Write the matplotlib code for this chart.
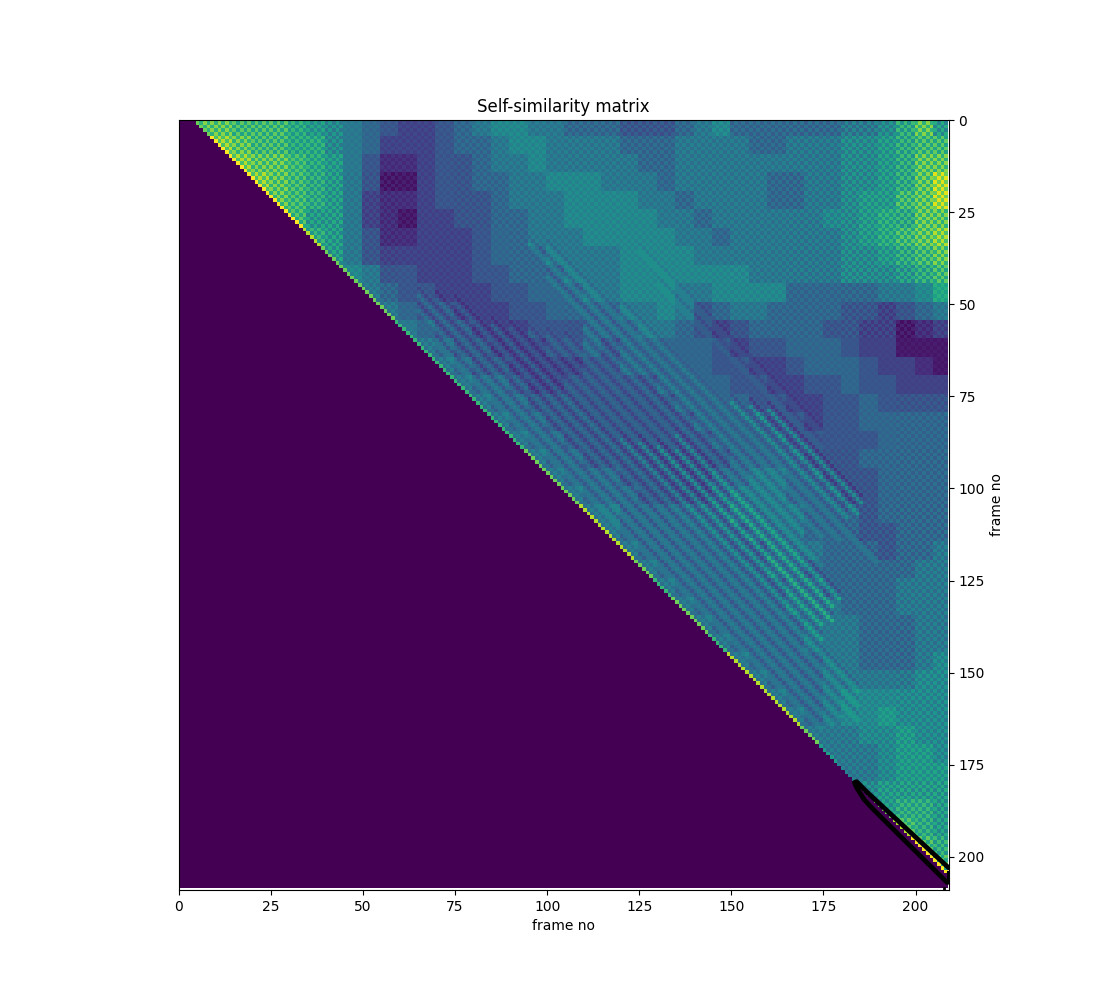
import matplotlib
matplotlib.use('Agg')
import matplotlib.pyplot as plt
import numpy as np

# similarity levels, one hex digit (0-f) per 5x5 frames
levels = [
    '0bbaaa9 8765433 4567766 5554445 6755555 56679b8',
    '0bcbaa9 9765333 4556776 6665556 6665566 67789aa',
    '00ccbba 9864223 4456676 6666556 6666666 67789bb',
    '000ccba 9864113 4455667 7766656 6666556 67789bd',
    '0000cba 9863223 4445666 7777665 6666556 6788abd',
    '00000ba 8863213 3445566 7777766 5666666 77899bb',
    '000000b 9864223 3345566 6777776 6566666 6789abc',
    '0000000 9864333 3345556 6667777 6666666 67789ab',
    '0000000 0976443 3344555 6667777 7776666 677789a',
    '0000000 0096544 3334455 5667776 6777755 5556679',
    '0000000 0008654 4333445 5556676 4566555 5443456',
    '0000000 0000865 4433344 4555665 4345555 4433123',
    '0000000 0000096 5443334 4545555 5434455 5433111',
    '0000000 0000009 6544333 3445555 5443345 5543321',
    '0000000 0000000 9655433 4444455 5544334 4544333',
    '0000000 0000000 0965544 4444445 5554433 4454444',
    '0000000 0000000 0086554 4444444 5555443 4455555',
    '0000000 0000000 0008655 4444444 4555544 4445555',
    '0000000 0000000 0000865 5444444 4455554 4455555',
    '0000000 0000000 0000086 5554444 4556655 4445555',
    '0000000 0000000 0000008 6555444 4566655 5445555',
    '0000000 0000000 0000000 9665555 5566665 5545555',
    '0000000 0000000 0000000 0965555 5556665 5544555',
    '0000000 0000000 0000000 0086555 5555666 5554556',
    '0000000 0000000 0000000 0008655 5555665 5555566',
    '0000000 0000000 0000000 0000865 5555566 5555666',
    '0000000 0000000 0000000 0000086 5555566 6555666',
    '0000000 0000000 0000000 0000008 6555556 6655566',
    '0000000 0000000 0000000 0000000 9655556 6655566',
    '0000000 0000000 0000000 0000000 0965555 6655567',
    '0000000 0000000 0000000 0000000 00a6555 6666677',
    '0000000 0000000 0000000 0000000 000a655 6777777',
    '0000000 0000000 0000000 0000000 0000965 6778777',
    '0000000 0000000 0000000 0000000 0000096 6677877',
    '0000000 0000000 0000000 0000000 0000009 6667887',
    '0000000 0000000 0000000 0000000 0000000 6667888',
    '0000000 0000000 0000000 0000000 0000000 0778888',
    '0000000 0000000 0000000 0000000 0000000 0088998',
    '0000000 0000000 0000000 0000000 0000000 000aa98',
    '0000000 0000000 0000000 0000000 0000000 0000ca9',
    '0000000 0000000 0000000 0000000 0000000 00000da',
    '0000000 0000000 0000000 0000000 0000000 000000e',
]
# first visible cell of every row, per 5 frames
edge_levels = [7, 9, 9, 9, 9, 9, 8, 7, 7, 7, 7, 6, 6, 6, 6, 6, 6, 6, 7, 7, 7,
               8, 8, 8, 7, 6, 7, 7, 6, 8, 8, 8, 8, 7, 5, 4, 6, 7, 8, 9, 9, 9]
# checkerboard strength in hundredths, per 15x15 frames
checker = [
    [9, 9, 7, 2, 2, 3, 3, 4, 4, 4, 4, 5, 7, 9],
    [9, 9, 8, 3, 2, 3, 3, 3, 3, 4, 4, 5, 7, 9],
    [0, 9, 8, 3, 2, 2, 3, 3, 3, 3, 4, 5, 7, 9],
    [0, 0, 7, 4, 2, 2, 2, 3, 3, 3, 3, 3, 4, 3],
    [0, 0, 0, 0, 4, 3, 2, 2, 2, 1, 2, 2, 1, 1],
    [0, 0, 0, 0, 0, 4, 3, 3, 3, 2, 2, 2, 2, 3],
    [0, 0, 0, 0, 0, 0, 4, 3, 3, 3, 3, 3, 3, 4],
    [0, 0, 0, 0, 0, 0, 0, 4, 4, 3, 3, 3, 4, 5],
    [0, 0, 0, 0, 0, 0, 0, 0, 4, 3, 3, 3, 4, 5],
    [0, 0, 0, 0, 0, 0, 0, 0, 0, 4, 3, 3, 4, 5],
    [0, 0, 0, 0, 0, 0, 0, 0, 0, 0, 4, 3, 4, 6],
    [0, 0, 0, 0, 0, 0, 0, 0, 0, 0, 0, 4, 5, 6],
    [0, 0, 0, 0, 0, 0, 0, 0, 0, 0, 0, 0, 7, 8],
    [0, 0, 0, 0, 0, 0, 0, 0, 0, 0, 0, 0, 0, 9],
]
# diagonal streaks: lag, first column, last column, extra similarity
stripe_lag = [9, 13, 17, 21, 25, 29, 33, 37, 41, 45, 49, 53, 57, 61, 65, 69, 73, 77, 81, 85, 89,
              33, 37, 41, 45, 49]
stripe_start = [70, 65, 65, 70, 75, 85, 120, 125, 130, 135, 135, 110, 100, 95, 100, 120, 150, 155, 160, 130, 125,
                90, 95, 100, 105, 110]
stripe_end = [175, 178, 180, 185, 185, 185, 175, 175, 178, 178, 180, 175, 170, 175, 180, 190, 182, 185, 186, 175, 175,
              120, 125, 130, 135, 135]
stripe_gain = [.1, .12, .12, .12, .12, .14, .2, .22, .26, .24, .22, .12, .12, .12, .1, .1, .18, .22, .24, .06, .06,
               .1, .1, .1, .1, .1]
# trajectory drawn on top
path_x = [209, 187, 184, 183.4, 184, 186, 188.6, 208.6]
path_y = [203, 182.6, 179.6, 179.8, 181.2, 184.4, 187.2, 207]
corner_x = [208.7, 208.7]
corner_y = [204, 207]
spur_x = [207.8, 207.8]
spur_y = [208.4, 209]

n = 209
grid = np.array([[int(c, 16) for c in row.replace(' ', '')] for row in levels]) / 15
strength = np.array(checker) / 100
rows, cols = np.indices((n, n))
lag = cols - rows

# blocks from the tables, no smoothing
sim = grid[rows // 5, cols // 5] + strength[rows // 15, cols // 15] * (1 - 2 * (lag % 2))
for l, a, b, g in zip(stripe_lag, stripe_start, stripe_end, stripe_gain):
    c = np.arange(a, b)
    sim[c - l, c] += g
    sim[c - l - 2, c] -= g / 3
for i in range(n - 4):
    sim[i, i + 4] = edge_levels[i // 5] / 9
sim[lag < 4] = 0

fig, ax = plt.subplots(figsize=(11, 10), dpi=100)
ax.imshow(np.clip(sim, 0, 1), cmap='viridis', vmin=0, vmax=1)
ax.plot(path_x, path_y, color='black', lw=3.4, solid_capstyle='round')
ax.plot(corner_x, corner_y, color='black', lw=1.5)
ax.plot(spur_x, spur_y, color='black', lw=2)
ax.set_xlim(0, n)
ax.set_ylim(n, 0)
ax.yaxis.tick_right()
ax.yaxis.set_label_position('right')
ax.set_xlabel('frame no')
ax.set_ylabel('frame no')
ax.set_title('Self-similarity matrix')
plt.savefig('out.png')
